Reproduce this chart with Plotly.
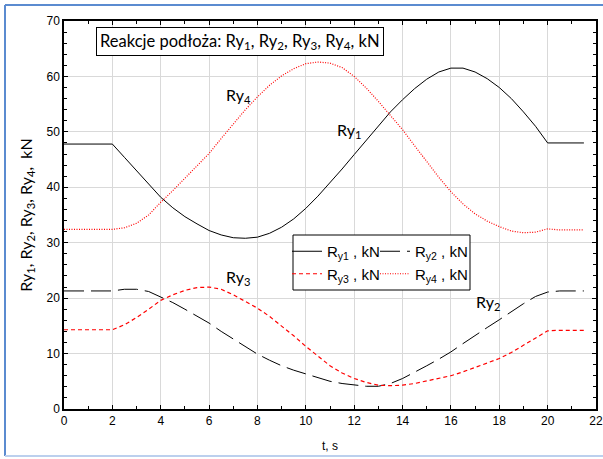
import plotly.graph_objects as go

t = [0, 2, 2.5, 3, 3.5, 4, 4.5, 5, 5.5, 6, 6.5, 7, 7.5, 8, 8.5, 9, 9.5, 10, 10.5, 11, 11.5,
     12, 12.5, 13, 13.5, 14, 14.5, 15, 15.5, 16, 16.5, 17, 17.5, 18, 18.5, 19, 19.5, 20, 20.5, 21.5]

ry1 = [47.8, 47.8, 45.4, 43.0, 40.6, 38.2, 36.3, 34.7, 33.4, 32.2, 31.4, 30.9, 30.8, 31.0, 31.7,
       32.8, 34.3, 36.2, 38.4, 40.8, 43.3, 45.9, 48.5, 51.2, 53.6, 55.8, 57.8, 59.5, 60.8, 61.5,
       61.5, 60.8, 59.6, 58.0, 56.0, 53.6, 51.0, 48.0, 48.0, 48.0]
ry2 = [21.3, 21.3, 21.6, 21.6, 21.2, 20.2, 19.2, 18.0, 16.8, 15.5, 14.0, 12.6, 11.2, 9.9, 8.8,
       7.8, 7.0, 6.3, 5.6, 5.0, 4.6, 4.3, 4.1, 4.1, 4.6, 5.5, 6.6, 7.8, 9.0, 10.3,
       11.8, 13.3, 14.7, 16.1, 17.6, 19.0, 20.3, 21.1, 21.3, 21.3]
ry3 = [14.3, 14.3, 15.2, 16.5, 18.0, 19.6, 20.6, 21.4, 21.9, 22.0, 21.6, 20.6, 19.4, 18.2, 16.7,
       15.0, 13.2, 11.3, 9.5, 7.8, 6.5, 5.5, 4.8, 4.3, 4.2, 4.3, 4.6, 5.1, 5.5, 6.0,
       6.7, 7.5, 8.3, 9.1, 10.2, 11.5, 12.8, 14.1, 14.2, 14.2]
ry4 = [32.4, 32.4, 32.7, 33.5, 35.0, 37.3, 39.4, 41.6, 43.8, 46.1, 48.8, 51.5, 54.0, 56.3, 58.4,
       60.1, 61.4, 62.3, 62.6, 62.4, 61.6, 60.0, 57.9, 55.5, 53.0, 50.4, 47.5, 44.6, 41.8, 39.2,
       37.0, 35.2, 33.9, 32.9, 32.1, 31.8, 31.9, 32.5, 32.3, 32.3]

legend_names = ["R<sub>y1</sub> , kN", "R<sub>y2</sub> , kN", "R<sub>y3</sub> , kN", "R<sub>y4</sub> , kN"]
curve_labels = ["Ry<sub>1</sub>", "Ry<sub>2</sub>", "Ry<sub>3</sub>", "Ry<sub>4</sub>"]
label_pos_t = [11.8, 17.55, 7.2, 7.2]
label_pos_y = [50.2, 19.2, 23.8, 56.5]

title_text = "Reakcje podłoża: Ry<sub>1</sub>, Ry<sub>2</sub>, Ry<sub>3</sub>, Ry<sub>4</sub>, kN"
ytitle = "Ry<sub>1</sub>, Ry<sub>2</sub>, Ry<sub>3</sub>, Ry<sub>4</sub>,  kN"
xtitle = "t, s"

W, H = 603, 459
ML, MR, MT, MB = 64, 7, 21, 50
PW, PH = W - ML - MR, H - MT - MB

def px(x):
    return (x - ML) / PW

def py(y):
    return (H - MB - y) / PH

fig = go.Figure()
styles = [
    dict(color="black", width=1, dash="solid"),
    dict(color="black", width=1, dash="20px,7px"),
    dict(color="red", width=1.2, dash="4px,3px"),
    dict(color="red", width=1.2, dash="1px,1.5px"),
]
legs = ["legend", "legend2", "legend", "legend2"]
for s, name, st, lg in zip([ry1, ry2, ry3, ry4], legend_names, styles, legs):
    fig.add_trace(go.Scatter(x=t, y=s, mode="lines", name=name, line=st, legend=lg))

for lab, xx, yy in zip(curve_labels, label_pos_t, label_pos_y):
    fig.add_annotation(x=xx, y=yy, text=lab, showarrow=False,
                       font=dict(family="Lato", size=16, color="black"))

fig.add_annotation(xref="paper", yref="paper", x=px(240), y=py(41.5), xanchor="center",
                   yanchor="middle", text=title_text,
                   showarrow=False, bordercolor="black", borderwidth=1, borderpad=3,
                   bgcolor="white", font=dict(family="Lato", size=16.5, color="black"))

# legend frame
fig.add_shape(type="rect", xref="paper", yref="paper", x0=px(293), x1=px(470),
              y0=py(290), y1=py(235), line=dict(color="black", width=1), fillcolor="white",
              layer="above")
# outer blue frame
fig.add_shape(type="line", xref="paper", yref="paper", x0=px(5), x1=px(5), y0=py(5), y1=py(456),
              line=dict(color="#5b8bd0", width=2))
fig.add_shape(type="line", xref="paper", yref="paper", x0=px(5), x1=px(610), y0=py(5), y1=py(5),
              line=dict(color="#5b8bd0", width=2))
fig.add_shape(type="line", xref="paper", yref="paper", x0=px(5), x1=px(610), y0=py(456), y1=py(456),
              line=dict(color="#bcd0ee", width=2))

legfont = dict(family="Liberation Sans", size=15, color="black")
fig.update_layout(
    width=W, height=H, margin=dict(l=ML, r=MR, t=MT, b=MB, autoexpand=False),
    paper_bgcolor="white", plot_bgcolor="white",
    legend=dict(x=px(287), y=py(235), xanchor="left", yanchor="top", bgcolor="rgba(0,0,0,0)",
                font=legfont, tracegroupgap=0, itemwidth=30),
    legend2=dict(x=px(375), y=py(235), xanchor="left", yanchor="top", bgcolor="rgba(0,0,0,0)",
                 font=legfont, tracegroupgap=0, itemwidth=30),
    xaxis=dict(range=[0, 22], dtick=2, tick0=0, showgrid=True, gridcolor="#d9d9d9",
               showline=True, linecolor="black", linewidth=1.5, mirror="allticks",
               ticks="inside", ticklen=4, tickcolor="black",
               minor=dict(dtick=1, ticks="inside", ticklen=3, tickcolor="black", showgrid=False),
               tickfont=dict(family="Liberation Sans", size=12, color="black"),
               title=dict(text=xtitle, font=dict(family="Liberation Sans", size=12, color="black"),
                          standoff=14),
               zeroline=False),
    yaxis=dict(range=[0, 70], dtick=10, tick0=0, showgrid=True, gridcolor="#d9d9d9",
               showline=True, linecolor="black", linewidth=1.5, mirror="allticks",
               ticks="inside", ticklen=4, tickcolor="black",
               minor=dict(dtick=2, ticks="inside", ticklen=3, tickcolor="black", showgrid=False),
               tickfont=dict(family="Liberation Sans", size=12, color="black"),
               title=dict(text=ytitle, font=dict(family="Lato", size=16, color="black"),
                          standoff=10),
               zeroline=False),
)

fig.write_html("out.html", config={"displayModeBar": False},
               post_script="document.body.style.margin='0';document.body.style.overflow='hidden';")
